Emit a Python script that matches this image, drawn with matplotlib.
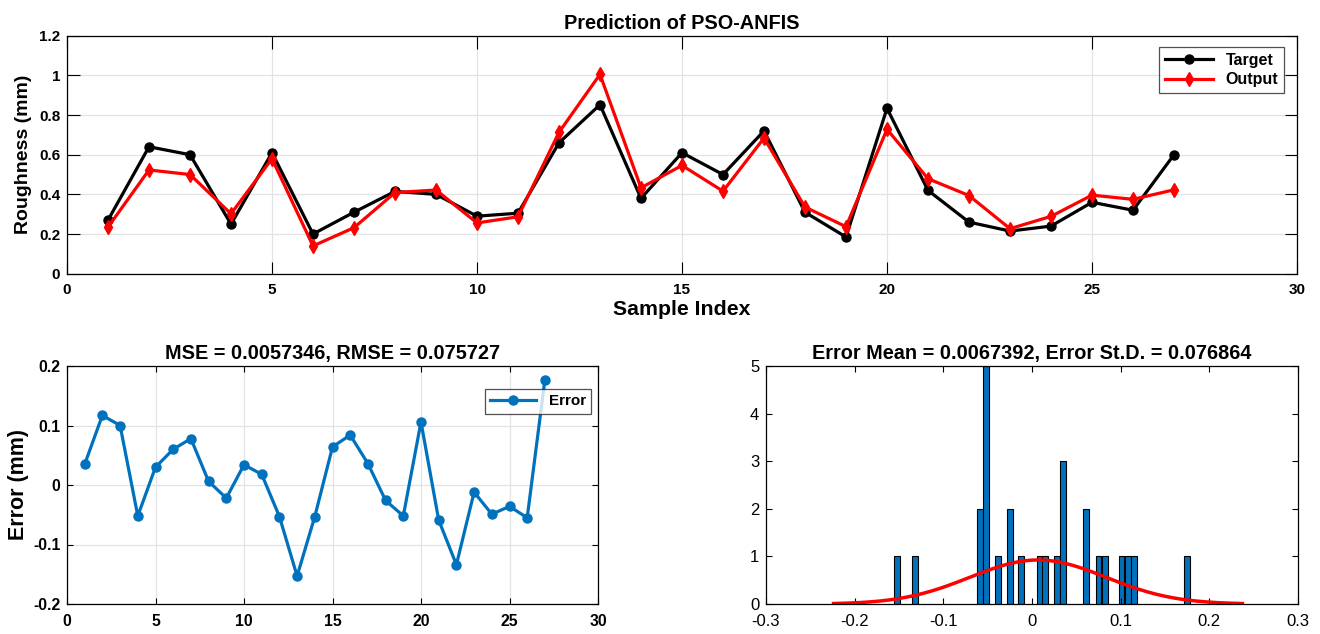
import numpy as np
import matplotlib
matplotlib.use("Agg")
import matplotlib.pyplot as plt
from matplotlib.ticker import FuncFormatter

plt.rcParams['font.family'] = ['Liberation Sans', 'DejaVu Sans']
plt.rcParams['axes.unicode_minus'] = False

# data
sample_idx = np.arange(1, 28)
target = [0.27, 0.64, 0.60, 0.25, 0.61, 0.20, 0.31, 0.415, 0.40, 0.29, 0.305, 0.66, 0.852, 0.38,
          0.61, 0.50, 0.72, 0.31, 0.185, 0.834, 0.42, 0.26, 0.215, 0.24, 0.36, 0.32, 0.60]
output = [0.235, 0.523, 0.50, 0.302, 0.58, 0.14, 0.232, 0.409, 0.422, 0.256, 0.287, 0.713, 1.005, 0.433,
          0.546, 0.416, 0.684, 0.336, 0.237, 0.728, 0.479, 0.394, 0.227, 0.289, 0.396, 0.375, 0.423]
error = np.array(target) - np.array(output)

hist_centers = [-0.152, -0.132, -0.059, -0.052, -0.038, -0.025, -0.012, 0.009, 0.015,
                0.028, 0.035, 0.061, 0.075, 0.082, 0.101, 0.108, 0.115, 0.175]
hist_counts = [1, 1, 2, 5, 1, 2, 1, 1, 1, 1, 3, 2, 1, 1, 1, 1, 1, 1]
bin_width = 0.0066

err_mean = 0.0067392
err_std = 0.076864
mse_title = "MSE = 0.0057346, RMSE = 0.075727"
hist_title = "Error Mean = 0.0067392, Error St.D. = 0.076864"

W, H = 1320, 634
fig = plt.figure(figsize=(W / 100, H / 100), dpi=100)

def px_axes(x0, y0, x1, y1):
    return fig.add_axes([x0 / W, 1 - y1 / H, (x1 - x0) / W, (y1 - y0) / H])

fmt = FuncFormatter(lambda v, p: "{:g}".format(round(v, 6)))

def style(ax, ticklen, bold=True, size=11, grid=True):
    ax.tick_params(direction='in', length=ticklen, width=0.8, top=True, right=True,
                   labelsize=size)
    ax.tick_params(axis='x', pad=7)
    ax.tick_params(axis='y', pad=4.8)
    for lab in ax.get_xticklabels() + ax.get_yticklabels():
        lab.set_fontweight('bold' if bold else 'normal')
    for s in ax.spines.values():
        s.set_linewidth(0.9)
    if grid:
        ax.grid(True, color='#e3e3e3', linewidth=0.9)
        ax.set_axisbelow(True)
    ax.xaxis.set_major_formatter(fmt)
    ax.yaxis.set_major_formatter(fmt)

blue = '#0072BD'

# top: target vs output
ax1 = px_axes(67, 35.7, 1297, 273.7)
ax1.plot(sample_idx, target, '-o', color='black', lw=2.3, ms=6.5, label='Target')
ax1.plot(sample_idx, output, '-d', color='red', lw=2.3, ms=7, label='Output')
ax1.set_xlim(0, 30)
ax1.set_ylim(0, 1.2)
ax1.set_xticks(np.arange(0, 31, 5))
ax1.set_yticks(np.arange(0, 1.21, 0.2))
style(ax1, 9)
ax1.set_title("Prediction of PSO-ANFIS", fontsize=14.3, fontweight='bold', pad=5)
ax1.set_xlabel("Sample Index", fontsize=15.3, fontweight='bold', labelpad=2)
ax1.set_ylabel("Roughness (mm)", fontsize=14, fontweight='bold', labelpad=5)
leg = ax1.legend(loc='upper right', bbox_to_anchor=(0.9894, 0.9525), borderaxespad=0,
                 fancybox=False, edgecolor='#262626', handlelength=3,
                 prop={'weight': 'bold', 'size': 11.5}, borderpad=0.35, labelspacing=0.3)
leg.get_frame().set_linewidth(0.9)

# bottom left: error per sample
ax2 = px_axes(67, 366, 598, 604)
ax2.plot(sample_idx, error, '-o', color=blue, lw=2.3, ms=6.5, label='Error')
ax2.set_xlim(0, 30)
ax2.set_ylim(-0.2, 0.2)
ax2.set_xticks(np.arange(0, 31, 5))
ax2.set_yticks(np.arange(-0.2, 0.21, 0.1))
style(ax2, 4, size=11.3)
ax2.set_title(mse_title, fontsize=14.3, fontweight='bold', pad=5)
ax2.set_ylabel("Error (mm)", fontsize=15.5, fontweight='bold', labelpad=3)
leg2 = ax2.legend(loc='upper right', bbox_to_anchor=(0.9868, 0.9034), borderaxespad=0,
                  fancybox=False, edgecolor='#262626', handlelength=3,
                  prop={'weight': 'bold', 'size': 11}, borderpad=0.35)
leg2.get_frame().set_linewidth(0.9)

# bottom right: error histogram with fitted normal
ax3 = px_axes(766, 366, 1298, 604)
ax3.bar(hist_centers, hist_counts, width=bin_width, color=blue, edgecolor='black', linewidth=0.8)
xs = np.linspace(err_mean - 3 * err_std, err_mean + 3 * err_std, 200)
pdf = np.exp(-0.5 * ((xs - err_mean) / err_std) ** 2) / (err_std * np.sqrt(2 * np.pi))
ax3.plot(xs, pdf * sum(hist_counts) * bin_width, color='red', lw=2.5)
ax3.set_xlim(-0.3, 0.3)
ax3.set_ylim(0, 5)
ax3.set_xticks(np.arange(-0.3, 0.31, 0.1))
ax3.set_yticks(np.arange(0, 6, 1))
style(ax3, 4, bold=False, size=12, grid=False)
ax3.set_title(hist_title, fontsize=14.3, fontweight='bold', pad=5)

fig.savefig("out.png", dpi=100)
